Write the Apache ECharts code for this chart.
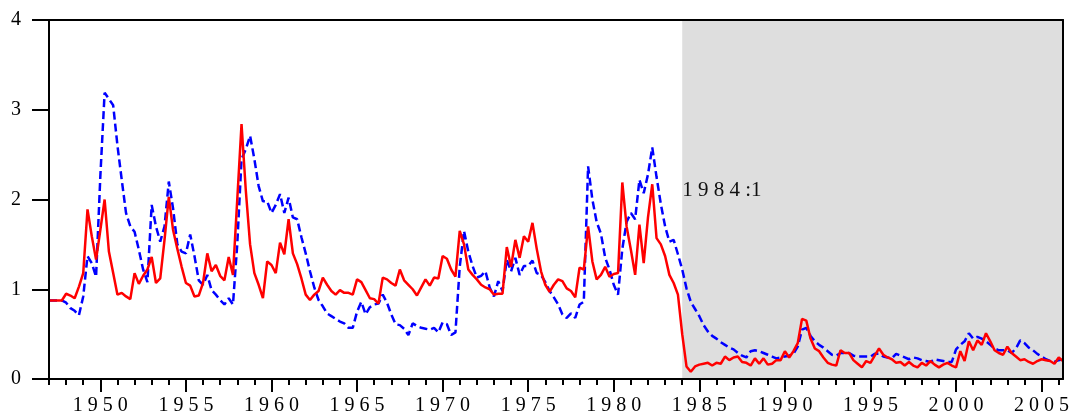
<!DOCTYPE html>
<html><head><meta charset="utf-8">
<script src="https://cdn.jsdelivr.net/npm/echarts@6/dist/echarts.min.js"></script>
<style>html,body{margin:0;padding:0;background:#fff}#c{width:1073px;height:420px}</style>
</head><body><div id="c"></div>
<script>
// Quarterly observations, 1947:1 .. 2006:2
const startYear = 1947;
const periodsPerYear = 4;

const redValues = [
  0.875,0.875,0.875,0.875,0.95,0.93,0.90,1.03,1.18,1.89,
  1.59,1.33,1.66,2.00,1.42,1.18,0.94,0.96,0.92,0.89,
  1.18,1.06,1.15,1.22,1.36,1.07,1.12,1.55,2.03,1.66,
  1.45,1.25,1.07,1.04,0.92,0.93,1.07,1.40,1.20,1.27,
  1.15,1.10,1.36,1.16,2.00,2.84,2.10,1.50,1.18,1.05,
  0.90,1.31,1.27,1.18,1.52,1.39,1.78,1.40,1.28,1.12,
  0.94,0.88,0.94,0.98,1.13,1.05,0.98,0.94,0.99,0.96,
  0.96,0.94,1.11,1.08,0.99,0.90,0.89,0.84,1.13,1.11,
  1.07,1.04,1.22,1.10,1.05,1.00,0.93,1.02,1.11,1.04,
  1.13,1.12,1.37,1.34,1.22,1.14,1.65,1.50,1.22,1.16,
  1.11,1.05,1.02,1.00,0.94,0.95,0.95,1.47,1.25,1.55,
  1.35,1.59,1.53,1.74,1.45,1.20,1.05,0.97,1.05,1.11,
  1.09,1.01,0.98,0.91,1.24,1.22,1.70,1.31,1.11,1.16,
  1.25,1.14,1.17,1.18,2.19,1.70,1.44,1.16,1.72,1.29,
  1.80,2.17,1.57,1.50,1.37,1.16,1.07,0.94,0.50,0.14,
  0.08,0.14,0.16,0.17,0.18,0.15,0.18,0.17,0.25,0.21,
  0.24,0.25,0.19,0.18,0.15,0.23,0.17,0.23,0.16,0.17,
  0.21,0.21,0.31,0.24,0.31,0.40,0.67,0.65,0.45,0.34,
  0.31,0.24,0.18,0.16,0.15,0.32,0.29,0.29,0.21,0.17,
  0.13,0.20,0.18,0.26,0.34,0.27,0.24,0.22,0.18,0.19,
  0.15,0.19,0.15,0.13,0.18,0.15,0.20,0.16,0.13,0.16,
  0.18,0.15,0.13,0.31,0.20,0.42,0.32,0.43,0.38,0.51,
  0.42,0.32,0.29,0.27,0.36,0.29,0.25,0.21,0.22,0.19,
  0.17,0.20,0.22,0.21,0.20,0.17,0.24,0.20
];

const blueValues = [
  0.875,0.875,0.875,0.875,0.85,0.79,0.76,0.71,0.92,1.37,
  1.29,1.14,2.26,3.19,3.12,3.05,2.60,2.22,1.85,1.70,
  1.64,1.44,1.22,1.08,1.94,1.70,1.53,1.70,2.20,1.90,
  1.50,1.42,1.40,1.61,1.37,1.10,1.05,1.16,0.99,0.94,
  0.88,0.83,0.90,0.83,1.50,2.45,2.56,2.71,2.45,2.15,
  1.98,1.98,1.85,1.94,2.06,1.85,2.02,1.80,1.78,1.58,
  1.40,1.20,1.02,0.88,0.81,0.73,0.70,0.67,0.64,0.62,
  0.57,0.57,0.75,0.86,0.72,0.80,0.83,0.84,0.94,0.85,
  0.72,0.61,0.60,0.56,0.49,0.62,0.59,0.57,0.56,0.55,
  0.57,0.52,0.63,0.61,0.49,0.52,1.25,1.65,1.42,1.26,
  1.13,1.15,1.20,1.02,0.92,1.09,0.98,1.33,1.20,1.35,
  1.16,1.26,1.26,1.32,1.18,1.16,1.08,0.98,0.91,0.83,
  0.72,0.68,0.73,0.68,0.83,0.86,2.37,2.00,1.75,1.62,
  1.35,1.22,1.05,0.94,1.45,1.75,1.85,1.78,2.22,2.07,
  2.28,2.58,2.25,1.95,1.70,1.53,1.55,1.39,1.22,1.01,
  0.86,0.78,0.70,0.60,0.53,0.48,0.45,0.41,0.38,0.35,
  0.33,0.29,0.26,0.24,0.31,0.32,0.31,0.29,0.27,0.25,
  0.23,0.24,0.25,0.26,0.28,0.36,0.55,0.57,0.48,0.42,
  0.38,0.35,0.31,0.27,0.26,0.29,0.29,0.29,0.26,0.25,
  0.25,0.25,0.25,0.28,0.28,0.25,0.24,0.23,0.28,0.26,
  0.24,0.22,0.24,0.23,0.21,0.20,0.19,0.22,0.21,0.20,
  0.19,0.19,0.33,0.38,0.42,0.51,0.45,0.47,0.45,0.42,
  0.38,0.34,0.32,0.32,0.32,0.29,0.34,0.43,0.40,0.35,
  0.32,0.28,0.25,0.22,0.20,0.19,0.21,0.22
];

const majorYears = [1950,1955,1960,1965,1970,1975,1980,1985,1990,1995,2000,2005];
const minorYears = [1947,1948,1949,1950,1951,1952,1953,1954,1955,1956,1957,1958,1959,1960,
  1961,1962,1963,1964,1965,1966,1967,1968,1969,1970,1971,1972,1973,1974,1975,1976,1977,1978,
  1979,1980,1981,1982,1983,1984,1985,1986,1987,1988,1989,1990,1991,1992,1993,1994,1995,1996,
  1997,1998,1999,2000,2001,2002,2003,2004,2005,2006];
const yMin = 0, yMax = 4, yStep = 1;
const shadeStart = 1984;
const shadeLabel = '1 9 8 4 :1';

const xMax = startYear + (redValues.length - 1) / periodsPerYear;
const toPairs = arr => arr.map((v, i) => [startYear + i / periodsPerYear, v]);
const FONT = '"Liberation Serif", "Times New Roman", serif';
const BLACK = '#000';
const axLine = {show: true, onZero: false, lineStyle: {color: BLACK, width: 2}};

const chart = echarts.init(document.getElementById('c'), null, {renderer: 'canvas'});
const baseX = {type: 'value', min: startYear, max: xMax, splitLine: {show: false}, z: 5};
const baseY = {type: 'value', min: yMin, max: yMax, interval: yStep, splitLine: {show: false}, z: 5};

chart.setOption({
  animation: false,
  backgroundColor: '#fff',
  grid: {left: 49, right: 10, top: 20, bottom: 41, show: false},
  xAxis: [
    Object.assign({}, baseX, {
      position: 'bottom', axisLine: axLine,
      axisTick: {show: true, customValues: majorYears, length: 13, lineStyle: {color: BLACK, width: 2}},
      axisLabel: {show: true, customValues: majorYears, formatter: v => String(v).split('').join(' '),
        fontSize: 20, fontFamily: FONT, color: BLACK, margin: 17}
    }),
    Object.assign({}, baseX, {
      position: 'bottom', axisLine: {show: false, onZero: false},
      axisTick: {show: true, customValues: minorYears, length: 6, lineStyle: {color: BLACK, width: 2}},
      axisLabel: {show: false}
    }),
    Object.assign({}, baseX, {
      position: 'top', axisLine: axLine, axisTick: {show: false}, axisLabel: {show: false}
    })
  ],
  yAxis: [
    Object.assign({}, baseY, {
      position: 'left', axisLine: axLine,
      axisTick: {show: true, length: 17, lineStyle: {color: BLACK, width: 2}},
      axisLabel: {fontSize: 20, fontFamily: FONT, color: BLACK, margin: 28}
    }),
    Object.assign({}, baseY, {
      position: 'right', axisLine: axLine, axisTick: {show: false}, axisLabel: {show: false}
    })
  ],
  series: [
    {
      type: 'line', name: 'blue', xAxisIndex: 0, yAxisIndex: 0,
      data: toPairs(blueValues), symbol: 'none', showSymbol: false, silent: true, z: 2,
      lineStyle: {color: '#0000ff', width: 2.5, type: [8, 4]},
      markArea: {silent: true, z: 1, itemStyle: {color: '#dedede', opacity: 1},
        data: [[{xAxis: shadeStart}, {xAxis: xMax}]]}
    },
    {
      type: 'line', name: 'red', xAxisIndex: 0, yAxisIndex: 0,
      data: toPairs(redValues), symbol: 'none', showSymbol: false, silent: true, z: 3,
      lineStyle: {color: '#ff0000', width: 2.5}
    }
  ]
});

const px = chart.convertToPixel({xAxisIndex: 0}, shadeStart);
chart.setOption({
  graphic: [{
    type: 'text', left: px, top: 180, z: 10,
    style: {text: shadeLabel, font: '21px ' + FONT, fill: '#111'}
  }]
});
</script>
</body></html>
